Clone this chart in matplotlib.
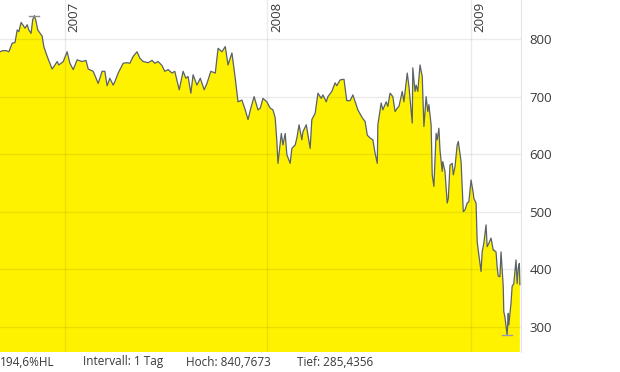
import matplotlib
matplotlib.use("Agg")
import matplotlib.pyplot as plt
import pandas as pd
import numpy as np

# data (days after the first reading, closing value)
start_date = "2006-09-06"
day_offsets = [
    0, 5, 11, 16, 22, 27, 31, 34, 38, 41, 45, 49, 52, 56, 59, 62, 65, 68, 76, 79,
    85, 90, 94, 99, 103, 106, 114, 121, 126, 132, 139, 148, 155, 159, 168, 177, 184, 189, 193, 198,
    204, 207, 213, 222, 229,
    234, 240, 247, 252, 258, 267, 274, 279, 285, 292, 297, 303, 310, 315, 323, 330, 335, 339, 344, 348,
    355, 361, 368, 373, 380, 388, 393, 400, 406, 411, 418, 424, 429, 436, 442, 447, 452, 458, 465,
    469, 474, 481, 487, 492, 496, 499, 501, 507, 510, 514, 517, 523, 526, 532, 535, 539, 544, 546, 552,
    559, 562, 568, 573, 579, 582, 588, 591, 598, 604, 607, 613, 618, 620, 625, 631, 636, 642, 645, 653,
    658, 662, 667, 672, 676, 680, 681, 687, 690, 696, 699,
    703, 708, 712, 716, 719, 725, 728, 734, 737, 743, 744, 748, 750, 753, 757, 761, 764, 768, 771, 773,
    777, 779, 782, 786, 788, 791, 793, 797, 798, 802, 806, 808, 811, 815, 817, 820, 824, 826, 831, 835,
    838, 842, 845, 849, 853, 854, 858, 860, 863, 867, 869, 872, 876, 878, 881, 885, 889, 890, 894, 896,
    898, 901, 903, 907, 908, 910, 914, 916, 917, 921, 923, 926, 930, 932, 934, 936, 937,
]
prices = [
    778, 780, 780, 778, 793, 794, 816, 813, 829, 825, 819, 825, 816, 810, 834, 840.7673, 831, 816, 805, 787,
    770, 758, 748, 755, 761, 755, 761, 778, 758, 747, 764, 761, 763, 748, 744, 723, 744, 744, 719, 732,
    720, 726, 741, 758, 759,
    758, 770, 778, 767, 761, 759, 763, 758, 761, 754, 744, 747, 741, 744, 712, 744, 732, 735, 706, 738,
    720, 732, 712, 723, 744, 741, 784, 778, 787, 755, 776, 732, 691, 694, 677, 660, 680, 700, 677,
    680, 697, 691, 680, 677, 663, 622, 584, 636, 616, 636, 599, 584, 610, 616, 628, 651, 625, 639, 651,
    610, 660, 671, 706, 697, 703, 691, 700, 709, 724, 719, 729, 730, 730, 693, 693, 703, 686, 677, 663,
    657, 633, 628, 625, 602, 584, 651, 689, 677, 691, 683,
    706, 700, 674, 680, 683, 709, 691, 741, 718, 654, 750, 709, 720, 709, 755, 735, 648, 700, 674, 686,
    651, 564, 544, 636, 625, 645, 607, 570, 587, 570, 515, 523, 581, 584, 564, 578, 616, 622, 587, 500,
    503, 515, 517, 555, 532, 523, 515, 448, 425, 396, 430, 445, 477, 439, 445, 454, 433, 433, 430, 404,
    388, 387, 430, 370, 326, 317, 285.4356, 323, 303, 341, 370, 375, 416, 375, 402, 410, 373,
]
years = ["2007", "2008", "2009"]
y_ticks = [300, 400, 500, 600, 700, 800]
footer = ["194,6%HL", "Intervall: 1 Tag", "Hoch: 840,7673", "Tief: 285,4356"]
footer_x = [0, 83, 186, 297]

plt.rcParams['font.family'] = ['Open Sans', 'DejaVu Sans']

dates = pd.to_datetime(start_date) + pd.to_timedelta(day_offsets, unit="D")
prices = np.array(prices)

fig = plt.figure(figsize=(6.2, 3.72), dpi=100)
ax = fig.add_axes([0, 20 / 372, 521 / 620, 352 / 372])

ax.fill_between(dates, prices, 0, color="#fff200", lw=0, zorder=1)
ax.plot(dates, prices, color="#59616a", lw=0.9, zorder=2)

# high / low markers
hi = prices.argmax()
lo = prices.argmin()
for i, col in ((hi, "#8c8c8c"), (lo, "#9a9ab8")):
    ax.plot([dates[i] - pd.Timedelta(days=9), dates[i] + pd.Timedelta(days=9)],
            [prices[i], prices[i]], color=col, lw=1, zorder=3)

ax.set_xlim(pd.to_datetime(start_date), pd.to_datetime(start_date) + pd.Timedelta(days=939))
ax.set_ylim(256, 868)

year_dates = [pd.to_datetime(y + "-01-01") for y in years]
ax.set_xticks(year_dates)
ax.set_xticklabels([])
ax.set_yticks(y_ticks)
ax.yaxis.tick_right()
ax.tick_params(axis="y", length=0, pad=6, labelsize=9.5, labelcolor="#3a3a3a")
ax.tick_params(axis="x", length=0)

ax.set_axisbelow("line")
ax.grid(True, color="black", alpha=0.08, lw=1)

for s in ("top", "left", "bottom"):
    ax.spines[s].set_visible(False)
ax.spines["right"].set_color("#e6e6e6")

for d, y in zip(year_dates, years):
    ax.annotate(y, xy=(d, 1), xycoords=("data", "axes fraction"),
                xytext=(2, -1.5), textcoords="offset points",
                rotation=90, ha="left", va="top", fontsize=9.5, color="#3a3a3a")

for txt, px in zip(footer, footer_x):
    fig.text(px / 620, 10 / 372, txt, ha="left", va="center", fontsize=8.5, color="#3a3a3a")

fig.savefig("out.png", dpi=100)
